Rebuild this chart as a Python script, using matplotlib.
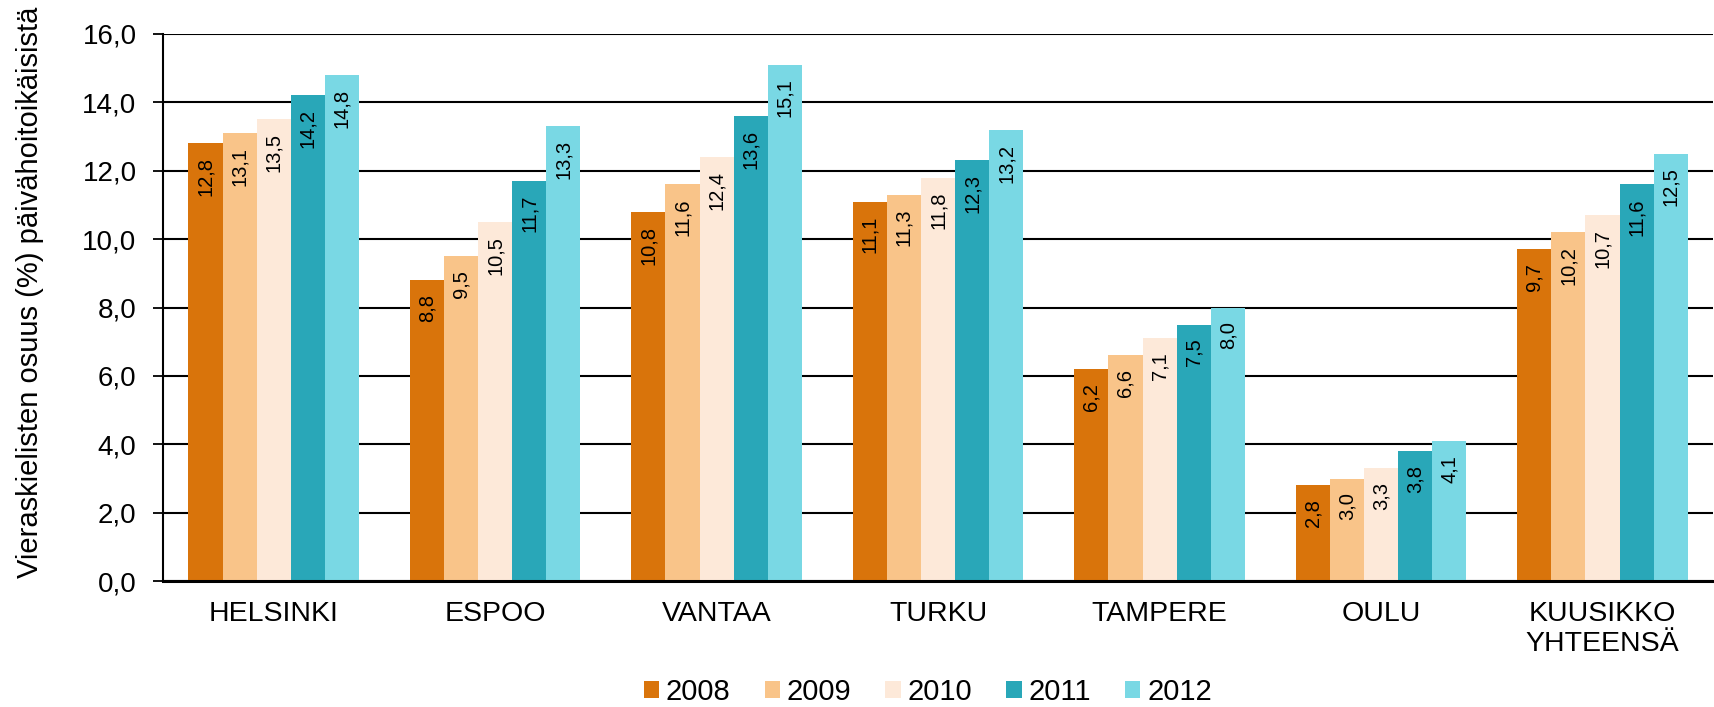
import matplotlib
matplotlib.use('Agg')
import matplotlib.pyplot as plt
import numpy as np

# Data
categories = ['HELSINKI', 'ESPOO', 'VANTAA', 'TURKU', 'TAMPERE', 'OULU', 'KUUSIKKO\nYHTEENSÄ']
years = ['2008', '2009', '2010', '2011', '2012']
v2008 = [12.8, 8.8, 10.8, 11.1, 6.2, 2.8, 9.7]
v2009 = [13.1, 9.5, 11.6, 11.3, 6.6, 3.0, 10.2]
v2010 = [13.5, 10.5, 12.4, 11.8, 7.1, 3.3, 10.7]
v2011 = [14.2, 11.7, 13.6, 12.3, 7.5, 3.8, 11.6]
v2012 = [14.8, 13.3, 15.1, 13.2, 8.0, 4.1, 12.5]
series = [v2008, v2009, v2010, v2011, v2012]
colors = ['#D9740B', '#F9C489', '#FDE9D9', '#29A7B8', '#79D8E4']

plt.rcParams['font.family'] = ['Liberation Sans', 'DejaVu Sans']

fig = plt.figure(figsize=(17.15, 7.07), dpi=100)
ax = fig.add_axes([0.095, 0.178, 0.904, 0.774])

x = np.arange(len(categories))
group_w = 0.77
bw = group_w / len(series)

for i, (vals, col, yr) in enumerate(zip(series, colors, years)):
    pos = x - group_w / 2 + bw * (i + 0.5)
    bars = ax.bar(pos, vals, width=bw, color=col, label=yr, zorder=3)
    # value labels, rotated, just inside the top of each bar
    for b, v in zip(bars, vals):
        ax.annotate(f'{v:.1f}'.replace('.', ','),
                    (b.get_x() + b.get_width() / 2, v),
                    xytext=(0, -10), textcoords='offset points',
                    rotation=90, ha='center', va='top', fontsize=14.5, zorder=4)

ax.set_xlim(-0.5, len(categories) - 0.5)
ax.set_ylim(0, 16)
yt = np.arange(0, 16.1, 2)
ax.set_yticks(yt)
ax.set_yticklabels([f'{t:.1f}'.replace('.', ',') for t in yt])
ax.grid(axis='y', color='black', linewidth=1.5, zorder=0)
ax.set_xticks(x)
ax.set_xticklabels(categories, fontsize=20.5)
ax.tick_params(axis='x', length=0, pad=14)
ax.tick_params(axis='y', labelsize=20, length=7, width=1.3, pad=12, direction='out')

for s in ['top', 'right']:
    ax.spines[s].set_visible(False)
ax.spines['left'].set_linewidth(1.5)
ax.spines['bottom'].set_linewidth(2.2)
ax.spines['bottom'].set_zorder(5)

ax.set_ylabel('Vieraskielisten osuus (%) päivähoitoikäisistä', fontsize=21)
ax.yaxis.set_label_coords(-0.077, 0.528)

fig.legend(loc='center', bbox_to_anchor=(0.541, 0.021), ncol=5, frameon=False,
           fontsize=21, handlelength=0.52, handleheight=0.52, handletextpad=0.24,
           columnspacing=1.17, borderpad=0.2)

fig.savefig('out.png', dpi=100)
